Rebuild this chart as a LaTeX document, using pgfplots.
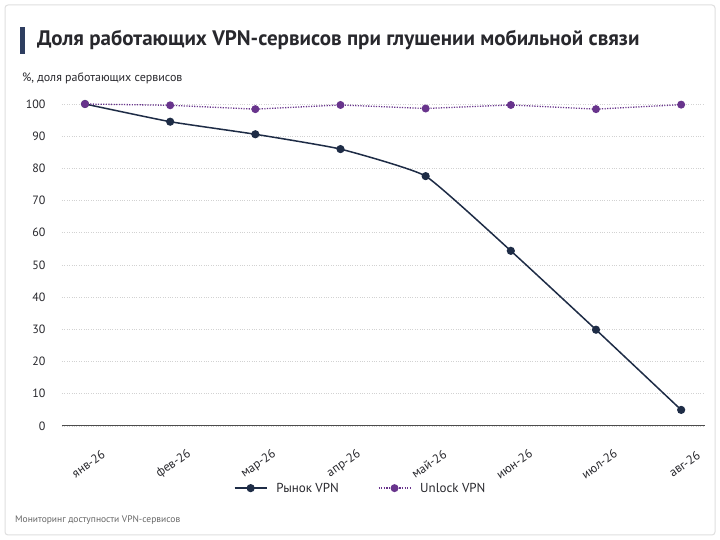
\documentclass[border=0pt]{standalone}
\usepackage{pgfplots}
\pgfplotsset{compat=1.18}
\usepackage{fontspec}
\setmainfont{PT Sans}
\definecolor{navy}{RGB}{30,44,70}
\definecolor{purp}{RGB}{104,52,140}
\definecolor{bar}{RGB}{46,62,96}
\definecolor{txt}{RGB}{40,40,45}
\begin{document}
\begin{tikzpicture}[x=1pt,y=1pt]
\useasboundingbox (0,0) rectangle (720,540);
\fill[white] (0,0) rectangle (720,540);
\draw[gray!25, line width=1pt, rounded corners=3pt] (5,5) rectangle (715,535);
\fill[bar] (20,486) rectangle (25,513);
\node[anchor=west, text=txt, font=\fontsize{21}{25}\selectfont\bfseries, inner sep=0] at (37,499.5) {Доля работающих VPN-сервисов при глушении мобильной связи};
\node[anchor=west, text=txt, font=\fontsize{12}{14}\selectfont, inner sep=0] at (22,462) {\%, доля работающих сервисов};
\node[anchor=west, text=gray!80!black, font=\fontsize{9.5}{11}\selectfont, inner sep=0] at (15,20) {Мониторинг доступности VPN-сервисов};
\begin{axis}[
  at={(62pt,114pt)}, anchor=south west,
  scale only axis, width=643pt, height=322pt,
  xmin=-0.27, xmax=7.28, ymin=0, ymax=100,
  clip=false,
  axis x line*=bottom, axis y line*=left,
  x axis line style={draw=black!70, line width=1pt, -},
  y axis line style={draw=none},
  major tick length=0pt,
  xtick={0,...,7},
  xticklabels={янв-26,фев-26,мар-26,апр-26,май-26,июн-26,июл-26,авг-26},
  ytick={0,10,...,100},
  ymajorgrids,
  major grid style={draw=gray!35, dotted, line width=0.7pt},
  /pgf/number format/assume math mode=true,
  tick label style={font=\fontsize{12}{14}\selectfont, text=txt},
  yticklabel style={anchor=east, xshift=-13pt},
  xticklabel style={rotate=35, anchor=center, xshift=-19pt, yshift=-33pt, font=\fontsize{12.5}{14}\selectfont},
  legend columns=2,
  legend style={at={(0.47,-0.193)}, anchor=center, draw=none, fill=none,
    font=\fontsize{13}{15}\selectfont, text=txt,
    /tikz/every even column/.append style={column sep=30pt},
    nodes={inner xsep=9pt}},
  legend cell align=left,
  legend image code/.code={\draw[mark repeat=2,mark phase=2] plot coordinates {(0pt,0pt) (16pt,0pt) (32pt,0pt)};},
]
\addplot[navy, line width=1.5pt, smooth, tension=0.25, mark=*, mark size=3.3pt, mark options={solid, fill=navy}]
 coordinates {(0,100) (1,94.5) (2,90.6) (3,86) (4,77.6) (5,54.4) (6,29.9) (7,5)};
\addlegendentry{Рынок VPN}
\addplot[purp, line width=1.3pt, dash pattern=on 1.2pt off 1.4pt, mark=*, mark size=3.3pt, mark options={solid, fill=purp}]
 coordinates {(0,100) (1,99.6) (2,98.4) (3,99.7) (4,98.6) (5,99.7) (6,98.4) (7,99.8)};
\addlegendentry{Unlock VPN}
\end{axis}
\end{tikzpicture}
\end{document}
